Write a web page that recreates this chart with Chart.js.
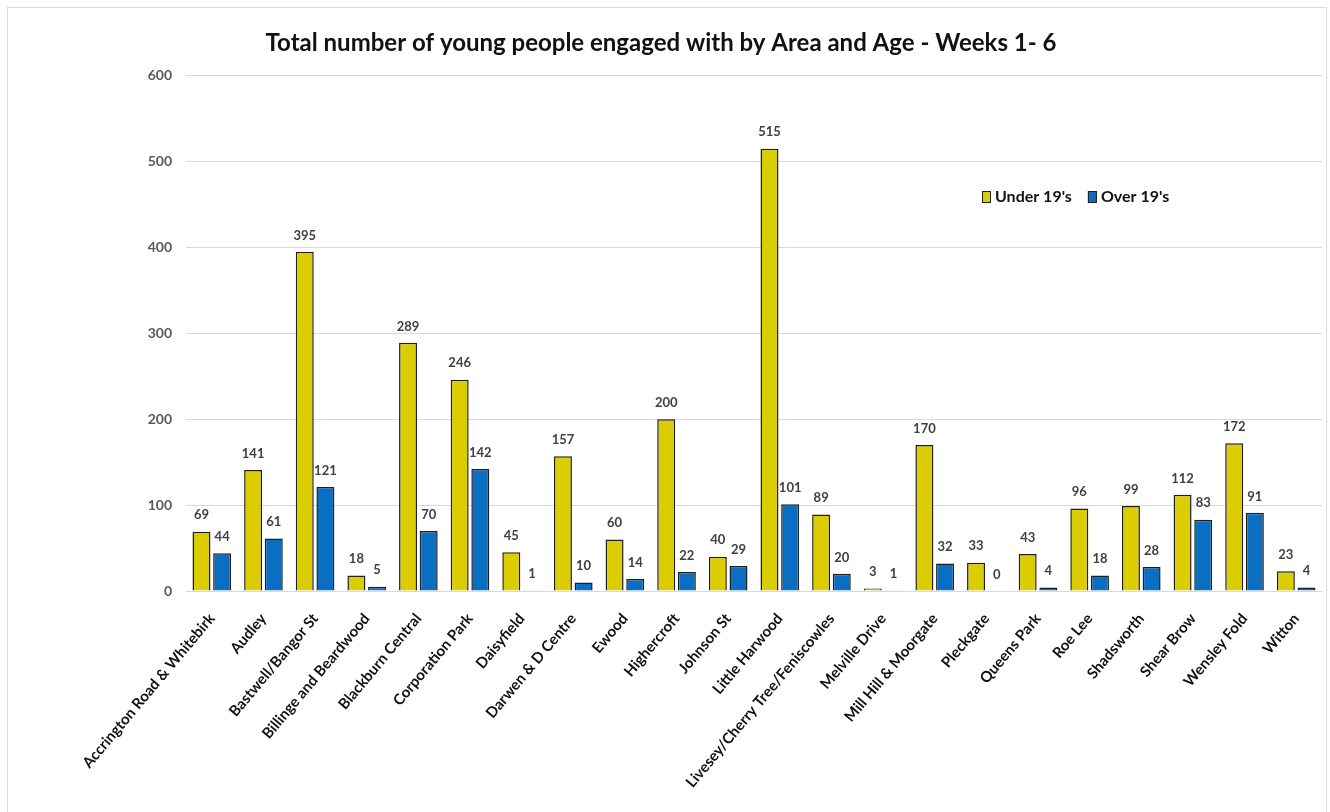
<!DOCTYPE html>
<html>
<head>
<meta charset="utf-8">
<script src="https://cdn.jsdelivr.net/npm/chart.js@4.4.0/dist/chart.umd.min.js"></script>
<style>
  html, body { margin: 0; padding: 0; background: #fff; }
  #wrap { position: relative; width: 1330px; height: 812px; }
  #frame { position: absolute; left: 7px; top: 7px; width: 1320px; height: 820px; border: 1px solid #d9d9d9; box-sizing: border-box; }
  canvas { position: absolute; left: 0; top: 0; }
</style>
</head>
<body>
<div id="wrap">
  <div id="frame"></div>
  <canvas id="chart" width="1330" height="812"></canvas>
</div>
<script>
const areas = [
  "Accrington Road & Whitebirk", "Audley", "Bastwell/Bangor St", "Billinge and Beardwood",
  "Blackburn Central", "Corporation Park", "Daisyfield", "Darwen & D Centre", "Ewood",
  "Highercroft", "Johnson St", "Little Harwood", "Livesey/Cherry Tree/Feniscowles",
  "Melville Drive", "Mill Hill & Moorgate", "Pleckgate", "Queens Park", "Roe Lee",
  "Shadsworth", "Shear Brow", "Wensley Fold", "Witton"
];
const under19 = [69, 141, 395, 18, 289, 246, 45, 157, 60, 200, 40, 515, 89, 3, 170, 33, 43, 96, 99, 112, 172, 23];
const over19 = [44, 61, 121, 5, 70, 142, 1, 10, 14, 22, 29, 101, 20, 1, 32, 0, 4, 18, 28, 83, 91, 4];
const yTicks = [0, 100, 200, 300, 400, 500, 600];

const FONT = "Lato, 'Open Sans', sans-serif";

// value labels above each bar
const valueLabels = {
  id: "valueLabels",
  afterDatasetsDraw(chart) {
    const ctx = chart.ctx;
    ctx.save();
    ctx.font = "bold 13px " + FONT;
    ctx.fillStyle = "#404040";
    ctx.textAlign = "center";
    ctx.textBaseline = "bottom";
    chart.data.datasets.forEach((ds, i) => {
      chart.getDatasetMeta(i).data.forEach((bar, j) => {
        ctx.fillText(ds.data[j], bar.x, bar.y - 10);
      });
    });
    ctx.restore();
  }
};

// legend drawn inside the plot, top right
const innerLegend = {
  id: "innerLegend",
  afterDraw(chart) {
    const ctx = chart.ctx;
    ctx.save();
    ctx.font = "bold 16px " + FONT;
    ctx.textBaseline = "middle";
    let x = 982;
    const y = 197;
    chart.data.datasets.forEach(ds => {
      ctx.fillStyle = ds.backgroundColor;
      ctx.fillRect(x, y - 6, 9, 12);
      ctx.strokeStyle = "#222";
      ctx.lineWidth = 1;
      ctx.strokeRect(x + 0.5, y - 5.5, 8, 11);
      ctx.fillStyle = "#111";
      ctx.fillText(ds.label, x + 13, y);
      x += 13 + ctx.measureText(ds.label).width + 16;
    });
    ctx.restore();
  }
};

new Chart(document.getElementById("chart").getContext("2d"), {
  type: "bar",
  data: {
    labels: areas,
    datasets: [
      {
        label: "Under 19's",
        data: under19,
        backgroundColor: "#dccd00",
        borderColor: "#1f1f1f",
        borderWidth: 1.5,
        categoryPercentage: 0.8,
        barPercentage: 0.87,
      },
      {
        label: "Over 19's",
        data: over19,
        backgroundColor: "#0a6fc2",
        borderColor: "#1f1f1f",
        borderWidth: 1.5,
        categoryPercentage: 0.8,
        barPercentage: 0.87,
      },
    ],
  },
  options: {
    responsive: false,
    animation: false,
    layout: { padding: { left: 0, right: 8, top: 0, bottom: 4 } },
    plugins: {
      legend: { display: false },
      tooltip: { enabled: false },
      title: {
        display: true,
        text: "Total number of young people engaged with by Area and Age - Weeks 1- 6",
        color: "#111",
        font: { family: FONT, size: 24, weight: "bold" },
        padding: { top: 29, bottom: 18 },
      },
    },
    scales: {
      x: {
        grid: { display: false },
        border: { display: true, color: "#d9d9d9" },
        ticks: {
          autoSkip: false,
          minRotation: 50,
          maxRotation: 50,
          color: "#111",
          font: { family: FONT, size: 15, weight: "bold" },
          padding: 11,
        },
        afterFit: scale => { scale.height = 217; },
      },
      y: {
        min: 0,
        max: 600,
        afterBuildTicks: scale => { scale.ticks = yTicks.map(v => ({ value: v })); },
        grid: { color: "#d9d9d9", drawTicks: false },
        border: { display: false },
        ticks: {
          color: "#595959",
          font: { family: FONT, size: 14, weight: "bold" },
          padding: 14,
        },
        afterFit: scale => { scale.width = 186; },
      },
    },
  },
  plugins: [valueLabels, innerLegend],
});
</script>
</body>
</html>
